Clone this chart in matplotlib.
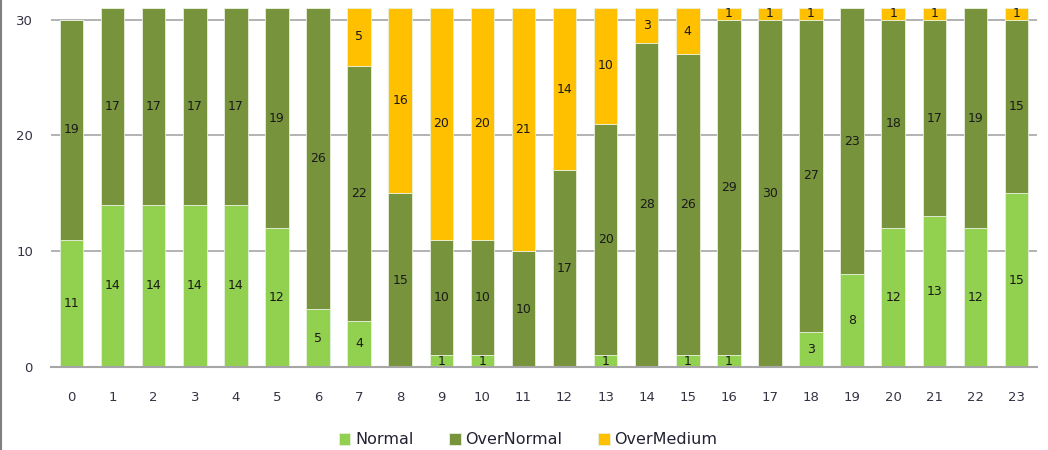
import matplotlib.pyplot as plt
import numpy as np

hours = [str(h) for h in range(24)]
normal = [11, 14, 14, 14, 14, 12, 5, 4, 0, 1, 1, 0, 0, 1, 0, 1, 1, 0, 3, 8, 12, 13, 12, 15]
over_normal = [19, 17, 17, 17, 17, 19, 26, 22, 15, 10, 10, 10, 17, 20, 28, 26, 29, 30, 27, 23, 18, 17, 19, 15]
over_medium = [0, 0, 0, 0, 0, 0, 0, 5, 16, 20, 20, 21, 14, 10, 3, 4, 1, 1, 1, 0, 1, 1, 0, 1]

series = [("Normal", normal, "#92D050"),
          ("OverNormal", over_normal, "#77933C"),
          ("OverMedium", over_medium, "#FFC000")]

fig = plt.figure(figsize=(10.48, 4.5), dpi=100)
ax = fig.add_axes([51/1048, 83/450, 986/1048, 359/450])

x = np.arange(len(hours))
bottom = np.zeros(len(hours))
for name, vals, col in series:
    vals = np.array(vals, dtype=float)
    ax.bar(x, vals, 0.57, bottom=bottom, color=col, label=name,
           edgecolor="#E8F0DC", linewidth=0.6, zorder=2)
    for xi, b, v in zip(x, bottom, vals):
        if v > 0:
            top = min(b + v, 31)
            ax.text(xi, (b + top) / 2, str(int(v)), ha="center", va="center",
                    fontsize=9, color="#1a1a1a", zorder=3)
    bottom += vals

ax.set_xlim(-0.5, 23.5)
ax.set_ylim(0, 31)
ax.set_yticks([0, 10, 20, 30])
ax.set_xticks(x)
ax.set_xticklabels(hours)
ax.yaxis.grid(True, color="#A6A6A6", linewidth=1.2, zorder=0)
ax.set_axisbelow(True)
for s in ["top", "right", "left"]:
    ax.spines[s].set_visible(False)
ax.spines["bottom"].set_color("#A6A6A6")
ax.spines["bottom"].set_linewidth(1.5)
ax.tick_params(axis="both", length=0, labelsize=9.5, colors="#333344")
ax.tick_params(axis="y", pad=13)
ax.tick_params(axis="x", pad=17)

leg = fig.legend(loc="center", bbox_to_anchor=(528/1048, 1 - 440/450), ncol=3,
                 frameon=False, fontsize=11.5, handlelength=0.75, handleheight=0.75,
                 handletextpad=0.3, columnspacing=2.2)
for t in leg.get_texts():
    t.set_color("#222233")

fig.add_artist(plt.Line2D([1/1048, 1/1048], [0, 1], color="#808080", linewidth=1.5))

fig.savefig("out.png", dpi=100)
